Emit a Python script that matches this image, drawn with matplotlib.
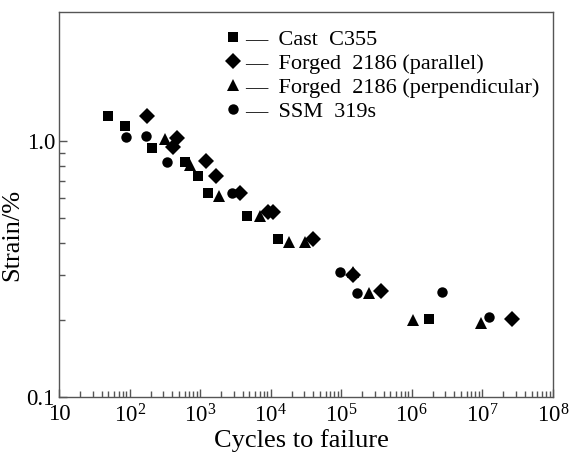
import matplotlib
matplotlib.use("Agg")
import matplotlib.pyplot as plt
from matplotlib.ticker import LogLocator, FixedLocator, FixedFormatter, NullFormatter

plt.rcParams['font.family'] = ['Liberation Serif', 'DejaVu Serif']
plt.rcParams['mathtext.fontset'] = 'custom'
plt.rcParams['mathtext.rm'] = 'Liberation Serif'
plt.rcParams['mathtext.it'] = 'Liberation Serif:italic'

# Data
cast_N = [49, 86, 208, 609, 932, 1290, 4600, 12650, 1.74e6]
cast_S = [1.25, 1.15, 0.94, 0.83, 0.73, 0.63, 0.51, 0.413, 0.202]

par_N = [176, 469, 412, 1208, 1675, 3660, 9120, 10740, 39600, 146000, 364000, 2.61e7]
par_S = [1.25, 1.03, 0.95, 0.835, 0.73, 0.625, 0.527, 0.527, 0.413, 0.30, 0.26, 0.202]

perp_N = [317, 717, 1846, 7030, 18100, 30500, 146000, 246000, 1.03e6, 9.5e6]
perp_S = [1.02, 0.81, 0.61, 0.51, 0.405, 0.405, 0.309, 0.256, 0.200, 0.195]

ssm_N = [89, 171, 339, 2820, 95500, 166000, 2.66e6, 1.23e7]
ssm_S = [1.04, 1.05, 0.83, 0.625, 0.309, 0.256, 0.258, 0.205]

labels = ["—  Cast  C355", "—  Forged  2186 (parallel)",
          "—  Forged  2186 (perpendicular)", "—  SSM  319s"]
xtick_vals = [1e1, 1e2, 1e3, 1e4, 1e5, 1e6, 1e7, 1e8]
xtick_labels = ["10", r"$\mathregular{10^{2}}$", r"$\mathregular{10^{3}}$",
                r"$\mathregular{10^{4}}$", r"$\mathregular{10^{5}}$",
                r"$\mathregular{10^{6}}$", r"$\mathregular{10^{7}}$",
                r"$\mathregular{10^{8}}$"]
ytick_vals = [0.1, 1.0]
ytick_labels = ["0.1", "1.0"]

fig = plt.figure(figsize=(5.74, 4.59), dpi=100)
ax = fig.add_axes([0.103, 0.135, 0.860, 0.839])

k = dict(color='black', linestyle='none', markeredgewidth=0)
h1, = ax.plot(cast_N, cast_S, marker='s', markersize=7.8, **k)
h2, = ax.plot(par_N, par_S, marker='D', markersize=8.0, **k)
h3, = ax.plot(perp_N, perp_S, marker='^', markersize=9.0, **k)
h4, = ax.plot(ssm_N, ssm_S, marker='o', markersize=7.5, **k)

ax.set_xscale('log')
ax.set_yscale('log')
ax.set_xlim(10, 1e8)
ax.set_ylim(0.1, 3.2)

ax.xaxis.set_major_locator(FixedLocator(xtick_vals))
ax.xaxis.set_major_formatter(FixedFormatter(xtick_labels))
ax.xaxis.set_minor_locator(LogLocator(base=10, subs=range(2, 10), numticks=20))
ax.xaxis.set_minor_formatter(NullFormatter())
ax.yaxis.set_major_locator(FixedLocator(ytick_vals))
ax.yaxis.set_major_formatter(FixedFormatter(ytick_labels))
ax.yaxis.set_minor_locator(FixedLocator([0.2, 0.3, 0.4, 0.5, 0.6, 0.7, 0.8, 0.9]))
ax.yaxis.set_minor_formatter(NullFormatter())

spine_color = '#555555'
for s in ax.spines.values():
    s.set_color(spine_color)
    s.set_linewidth(1.0)

ax.tick_params(axis='both', which='both', direction='in', colors=spine_color,
               labelcolor='black', labelsize=16.5, top=False, right=False)
ax.tick_params(axis='both', which='major', length=6, width=1.0)
ax.tick_params(axis='both', which='minor', length=4, width=1.0)
ax.tick_params(axis='x', which='major', pad=5)
ax.tick_params(axis='y', which='major', pad=3)

ax.set_xlabel("Cycles to failure", fontsize=19)
ax.set_ylabel("Strain/%", fontsize=19)
ax.xaxis.set_label_coords(0.49, -0.082)
ax.yaxis.set_label_coords(-0.072, 0.42)

leg = ax.legend([h1, h2, h3, h4], labels, loc='upper left',
                bbox_to_anchor=(0.305, 1.0), frameon=False, fontsize=16,
                handlelength=0.5, handletextpad=0.3, labelspacing=0.15,
                borderaxespad=0.4)

fig.savefig("out.png", dpi=100)
